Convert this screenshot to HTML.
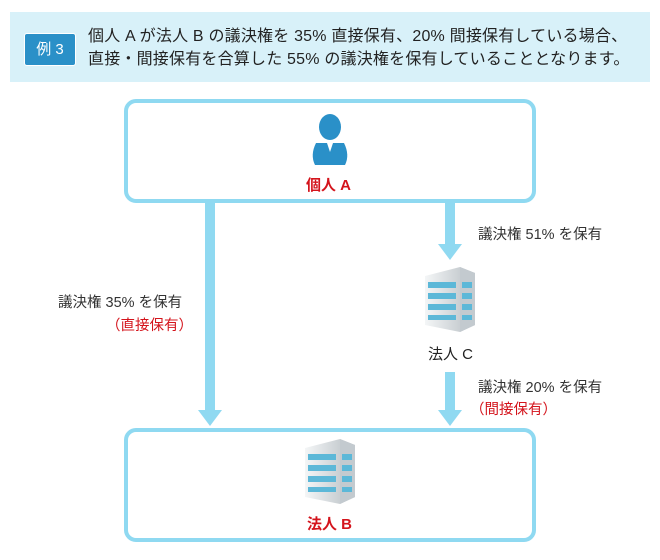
<!DOCTYPE html>
<html><head><meta charset="utf-8"><style>
body{margin:0;width:660px;height:560px;background:#fff;position:relative;font-family:"Liberation Sans","Noto Sans CJK JP",sans-serif;overflow:hidden}
.a{position:absolute}
.hdr{left:10px;top:12px;width:640px;height:70px;background:#d8f1f9}
.badge{left:24px;top:33px;width:50px;height:31px;background:#2a90c8;border:1px solid #fff;border-radius:3px;color:#fff;font-size:15px;line-height:31px;text-align:center}
.ht{left:88px;top:25px;font-size:16px;line-height:23px;color:#222;white-space:nowrap;letter-spacing:0.2px}
.box{border:4px solid #8fd9f1;border-radius:12px;box-sizing:border-box}
.red{color:#d4141c;font-weight:bold;font-size:15px}
.lbl{font-size:14.5px;color:#333;white-space:nowrap}
</style></head><body>
<div class="a hdr"></div>
<div class="a badge">例 3</div>
<div class="a ht">個人 A が法人 B の議決権を 35% 直接保有、20% 間接保有している場合、<br>直接・間接保有を合算した 55% の議決権を保有していることとなります。</div>
<div class="a box" style="left:124px;top:99px;width:412px;height:104px"></div>
<div class="a box" style="left:124px;top:428px;width:412px;height:114px"></div>
<svg class="a" style="left:0;top:0" width="660" height="560">
<g fill="#8fd9f1">
<rect x="205" y="203" width="10" height="210"/><polygon points="198,410 222,410 210,426"/>
<rect x="445" y="203" width="10" height="44"/><polygon points="438,244 462,244 450,260"/>
<rect x="445" y="372" width="10" height="40"/><polygon points="438,410 462,410 450,426"/>
</g>
<g fill="#2a90c8">
<ellipse cx="330" cy="127" rx="11" ry="13"/>
<path d="M316,143 L344,143 Q350,155 345,165 L315,165 Q310,155 316,143Z"/>
</g>
<path d="M327,143 L330,152 L333,143Z" fill="#fff"/>
<defs><linearGradient id="g" x1="0" x2="1"><stop offset="0" stop-color="#f4f6f7"/><stop offset="1" stop-color="#b7bec3"/></linearGradient></defs>
<g id="bld">
<polygon points="425,276 460,267 475,273 475,325 460,332 425,325" fill="url(#g)"/>
<polygon points="460,267 475,273 475,325 460,332" fill="#c3cacf"/>
<g fill="#5cb8d8"><rect x="428" y="282" width="28" height="6"/><rect x="428" y="293" width="28" height="6"/><rect x="428" y="304" width="28" height="6"/><rect x="428" y="315" width="28" height="5"/>
<rect x="462" y="282" width="10" height="6"/><rect x="462" y="293" width="10" height="6"/><rect x="462" y="304" width="10" height="6"/><rect x="462" y="315" width="10" height="5"/></g>
</g>
<use href="#bld" transform="translate(-120,172)"/>
</svg>
<div class="a red" style="left:306px;top:174px">個人 A</div>
<div class="a lbl" style="left:428px;top:343px;font-size:15px;color:#222">法人 C</div>
<div class="a red" style="left:307px;top:513px">法人 B</div>
<div class="a lbl" style="left:478px;top:223px">議決権 51% を保有</div>
<div class="a lbl" style="left:58px;top:291px">議決権 35% を保有</div>
<div class="a lbl" style="left:106px;top:314px;color:#d4141c">（直接保有）</div>
<div class="a lbl" style="left:478px;top:376px">議決権 20% を保有</div>
<div class="a lbl" style="left:470px;top:398px;color:#d4141c">（間接保有）</div>
</body></html>
